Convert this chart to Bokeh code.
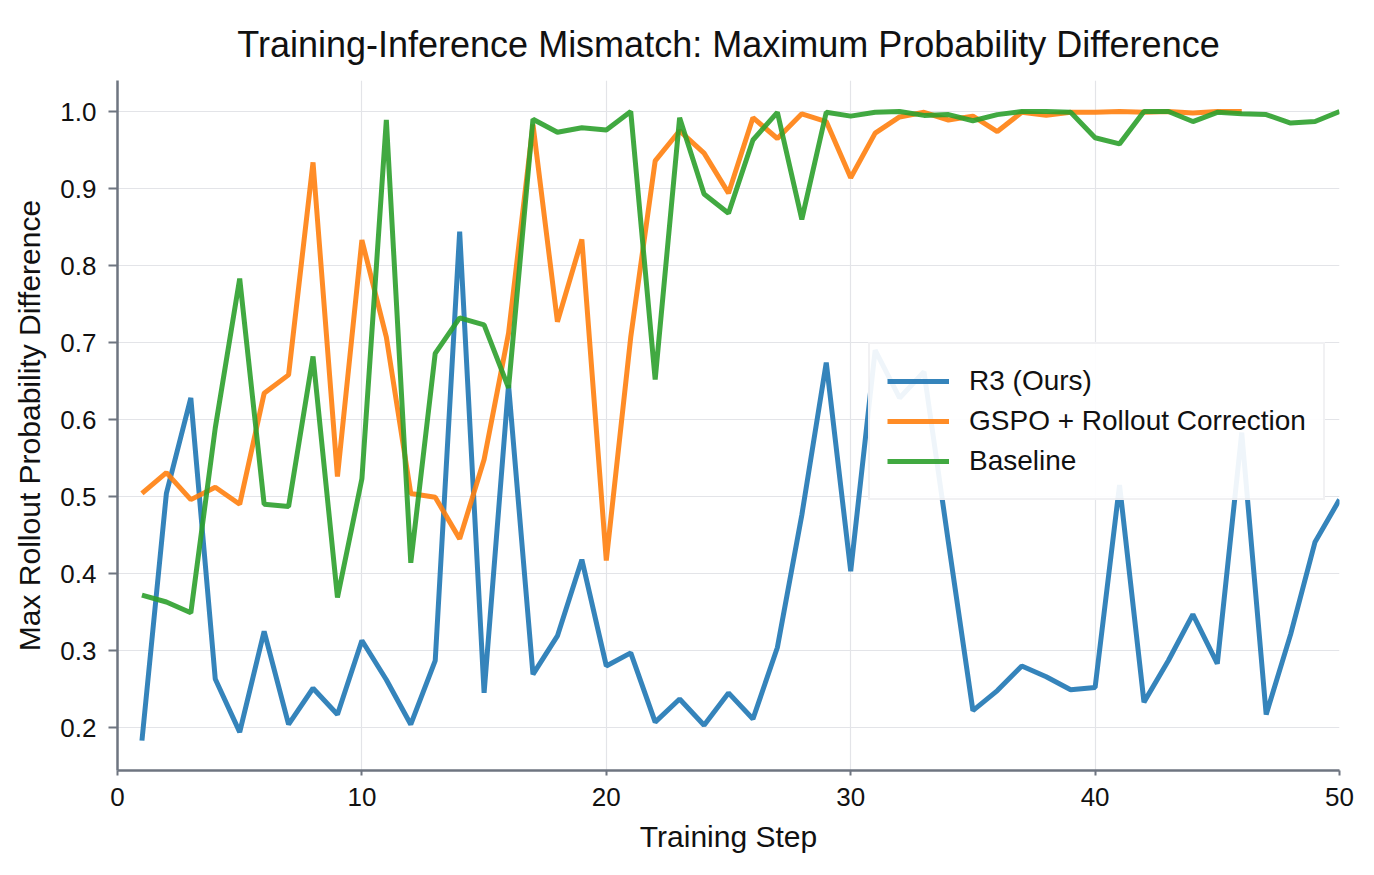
from bokeh.plotting import figure
from bokeh.models import Range1d, Legend, LegendItem, FixedTicker, Title, PrintfTickFormatter
from bokeh.embed import file_html
from bokeh.resources import INLINE

steps = list(range(1, 51))
r3 = [0.183, 0.504, 0.628, 0.263, 0.194, 0.325, 0.204, 0.251, 0.217, 0.313,
      0.262, 0.204, 0.287, 0.844, 0.245, 0.645, 0.269, 0.319, 0.418, 0.280,
      0.297, 0.207, 0.237, 0.203, 0.245, 0.211, 0.304, 0.476, 0.674, 0.403,
      0.690, 0.628, 0.662, 0.440, 0.222, 0.248, 0.280, 0.266, 0.249, 0.252,
      0.515, 0.233, 0.287, 0.347, 0.283, 0.583, 0.217, 0.321, 0.441, 0.496]
gspo_steps = list(range(1, 47))
gspo = [0.504, 0.531, 0.496, 0.512, 0.490, 0.634, 0.658, 0.934, 0.526, 0.833,
        0.707, 0.504, 0.499, 0.445, 0.548, 0.712, 0.983, 0.727, 0.834, 0.417,
        0.707, 0.936, 0.975, 0.946, 0.894, 0.992, 0.965, 0.997, 0.987, 0.914,
        0.972, 0.993, 0.999, 0.989, 0.994, 0.974, 0.999, 0.995, 0.999, 0.999,
        1.0, 0.999, 1.0, 0.998, 1.0, 1.0]
baseline = [0.372, 0.363, 0.349, 0.589, 0.783, 0.490, 0.487, 0.682, 0.369, 0.523,
            0.989, 0.414, 0.686, 0.732, 0.723, 0.641, 0.990, 0.973, 0.979, 0.976,
            1.0, 0.652, 0.992, 0.893, 0.868, 0.963, 0.999, 0.860, 0.999, 0.994,
            0.999, 1.0, 0.995, 0.996, 0.988, 0.996, 1.0, 1.0, 0.999, 0.966,
            0.958, 1.0, 1.0, 0.987, 0.999, 0.997, 0.996, 0.985, 0.987, 1.0]

x_ticks = [0, 10, 20, 30, 40, 50]
y_ticks = [0.2, 0.3, 0.4, 0.5, 0.6, 0.7, 0.8, 0.9, 1.0]
labels = ["R3 (Ours)", "GSPO + Rollout Correction", "Baseline"]
colors = ["#1f77b4", "#ff7f0e", "#2ca02c"]

FONT = "Liberation Sans"
SPINE = "#6e7580"

p = figure(frame_width=1222, frame_height=690,
           min_border_left=117, min_border_right=35,
           min_border_top=80, min_border_bottom=105,
           x_range=Range1d(0, 50), y_range=Range1d(0.1442, 1.0403),
           output_backend="svg", toolbar_location=None)

p.title = Title(text="Training-Inference Mismatch: Maximum Probability Difference",
                align="center", vertical_align="top",
                text_font=FONT, text_font_size="36px",
                text_font_style="normal", text_color="#111111", standoff=28)

r_a = p.line(steps, r3, line_color=colors[0], line_width=5, line_alpha=0.9)
r_b = p.line(gspo_steps, gspo, line_color=colors[1], line_width=5, line_alpha=0.9)
r_c = p.line(steps, baseline, line_color=colors[2], line_width=5, line_alpha=0.9)

p.outline_line_color = None
p.background_fill_color = "white"
p.border_fill_color = "white"

for ax in (p.xaxis[0], p.yaxis[0]):
    ax.axis_line_color = SPINE
    ax.axis_line_width = 2.5
    ax.major_tick_line_color = SPINE
    ax.major_tick_line_width = 2
    ax.major_tick_in = 0
    ax.minor_tick_line_color = None
    ax.major_label_text_font = FONT
    ax.major_label_text_font_size = "26px"
    ax.major_label_text_color = "#111111"
    ax.axis_label_text_font = FONT
    ax.axis_label_text_font_size = "30px"
    ax.axis_label_text_font_style = "normal"
    ax.axis_label_text_color = "#111111"

p.xaxis[0].major_tick_out = 5
p.yaxis[0].major_tick_out = 9
p.xaxis[0].ticker = FixedTicker(ticks=x_ticks)
p.yaxis[0].ticker = FixedTicker(ticks=y_ticks)
p.yaxis[0].formatter = PrintfTickFormatter(format="%.1f")
p.xaxis[0].axis_label = "Training Step"
p.yaxis[0].axis_label = "Max Rollout Probability Difference"
p.xaxis[0].major_label_standoff = 12
p.yaxis[0].major_label_standoff = 12
p.xaxis[0].axis_label_standoff = 11
p.yaxis[0].axis_label_standoff = 11

p.xgrid[0].ticker = FixedTicker(ticks=x_ticks)
p.ygrid[0].ticker = FixedTicker(ticks=y_ticks)
for g in (p.xgrid[0], p.ygrid[0]):
    g.grid_line_color = "#e3e4e8"
    g.grid_line_width = 1.2

legend = Legend(items=[LegendItem(label=labels[0], renderers=[r_a]),
                       LegendItem(label=labels[1], renderers=[r_b]),
                       LegendItem(label=labels[2], renderers=[r_c])],
                location=(751, 270), margin=0, padding=17,
                glyph_width=62, glyph_height=40, label_height=40, spacing=0,
                label_standoff=20,
                label_text_font=FONT, label_text_font_size="28px",
                label_text_color="#111111",
                border_line_color="#e3e4e8", border_line_width=2.5,
                background_fill_color="white", background_fill_alpha=0.92)
p.add_layout(legend)

open("out.html", "w").write(file_html(p, INLINE))
